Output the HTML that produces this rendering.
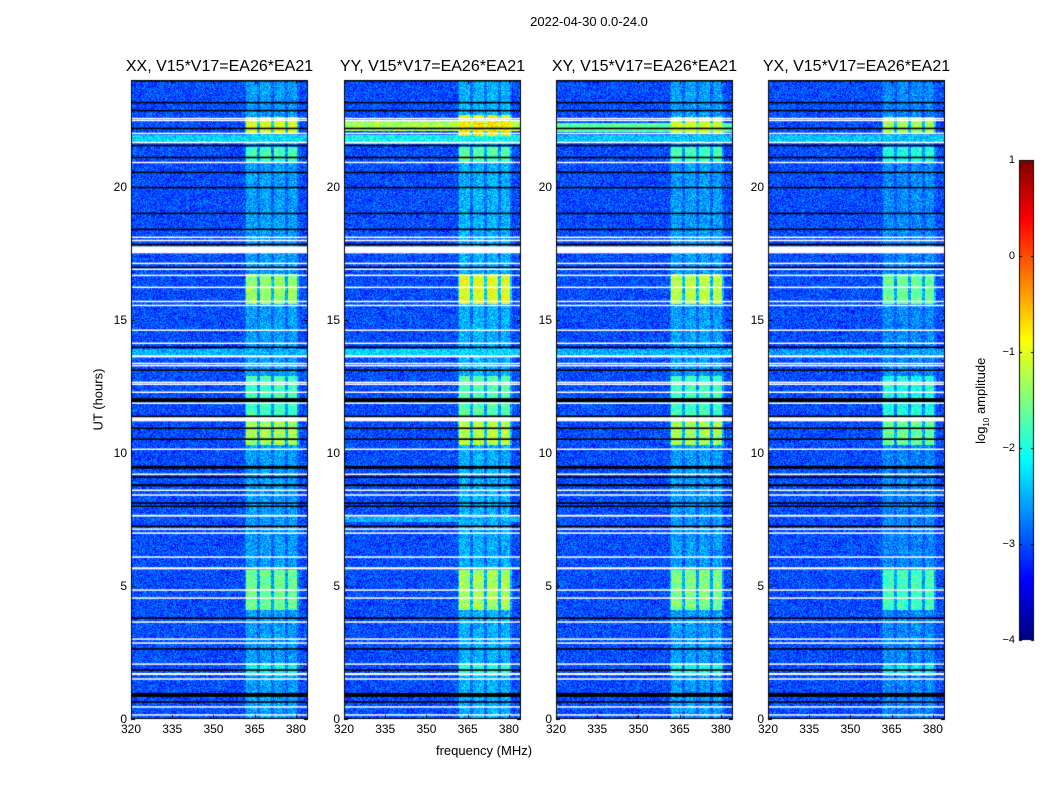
<!DOCTYPE html>
<html><head><meta charset="utf-8">
<style>
body{margin:0;background:#fff;}
#wrap{position:relative;width:1050px;height:800px;font-family:"Liberation Sans",sans-serif;color:#000;overflow:hidden;}
.t{position:absolute;white-space:nowrap;font-family:"Liberation Sans",sans-serif;}
canvas{position:absolute;}
</style></head>
<body>
<div id="wrap">
<div class="t" style="left:489px;top:14px;font-size:13px;width:200px;text-align:center;">2022-04-30 0.0-24.0</div>
<div class="t" style="left:384px;top:743px;font-size:13px;width:200px;text-align:center;">frequency (MHz)</div>
<div class="t" style="left:48px;top:392px;font-size:13px;width:100px;text-align:center;transform:rotate(-90deg);">UT (hours)</div>
<canvas id="cv" width="1050" height="800" style="left:0;top:0;"></canvas>
<div id="labels"></div>
<div class="t" style="left:932px;top:392px;font-size:13px;width:100px;text-align:center;transform:rotate(-90deg);">log<sub style="font-size:8px">10</sub> amplitude</div>
</div>
<script>
const titles=["XX, V15*V17=EA26*EA21","YY, V15*V17=EA26*EA21","XY, V15*V17=EA26*EA21","YX, V15*V17=EA26*EA21"];
const xTicks=[320,335,350,365,380];
const yTicks=[0,5,10,15,20];
const cbTicks=[-4,-3,-2,-1,0,1];
// flagged (white) rows, hours [start,end]
const whiteRows=[[22.53,22.58],[22.46,22.51],[21.97,22.02],[21.63,21.68],[20.88,20.93],[18.07,18.12],[17.95,18.0],[17.49,17.75],[17.09,17.14],[16.87,16.92],[16.64,16.69],[16.19,16.24],[15.66,15.71],[15.51,15.56],[14.58,14.63],[14.09,14.14],[13.58,13.66],[13.34,13.38],[13.26,13.30],[12.62,12.67],[12.55,12.60],[12.25,12.30],[11.84,11.89],[11.18,11.33],[10.11,10.16],[9.17,9.22],[8.57,8.62],[8.39,8.44],[7.60,7.67],[7.11,7.16],[6.96,7.01],[6.06,6.11],[5.62,5.70],[4.82,4.87],[4.52,4.57],[3.62,3.67],[2.98,3.03],[2.83,2.88],[2.04,2.09],[1.65,1.73],[1.48,1.53],[0.43,0.48],[0.13,0.18]];
// zeroed (black) rows
const blackRows=[[23.94,24.0],[23.12,23.18],[22.82,22.88],[22.15,22.21],[21.51,21.57],[21.06,21.12],[20.50,20.56],[19.93,19.99],[18.96,19.02],[18.36,18.42],[17.79,17.85],[16.93,16.99],[13.93,13.99],[13.07,13.13],[11.90,12.05],[11.34,11.40],[10.89,10.95],[10.48,10.54],[9.40,9.51],[9.05,9.11],[8.74,8.82],[8.08,8.14],[7.96,8.02],[7.21,7.27],[3.76,3.82],[2.60,2.66],[1.81,1.87],[0.83,0.98],[0.61,0.67]];
// RFI sub-bands (MHz) [start,end]
const rfiBands=[[362,366],[367,371],[372,376],[377,380.5]];
// RFI time episodes per panel: [start,end,log10 level]
const rfiXX=[[0,24,-2.6],[22.0,22.6,-1.0],[20.9,21.5,-1.8],[15.6,16.7,-1.4],[11.3,12.9,-1.8],[10.3,11.2,-1.3],[4.1,5.6,-1.6],[1.6,2.1,-2.1]];
const rfiYY=[[0,24,-2.5],[21.9,22.7,-0.8],[20.9,21.5,-1.7],[15.6,16.7,-1.0],[11.3,12.9,-1.7],[10.3,11.2,-1.2],[4.1,5.6,-1.3],[1.6,2.1,-1.9]];
const rfiXY=[[0,24,-2.6],[22.0,22.6,-1.1],[20.9,21.5,-1.8],[15.6,16.7,-1.2],[11.3,12.9,-1.8],[10.3,11.2,-1.3],[4.1,5.6,-1.5],[1.6,2.1,-2.0]];
const rfiYX=[[0,24,-2.7],[22.0,22.6,-1.3],[20.9,21.5,-2.0],[15.6,16.7,-1.6],[11.3,12.9,-2.0],[10.3,11.2,-1.6],[4.1,5.6,-1.8],[1.6,2.1,-2.2]];
// broadband episodes per panel [start,end,level]
const broadXX=[[21.65,21.95,-2.3],[13.6,13.9,-2.5]];
const broadYY=[[22.1,22.45,-1.3],[21.6,21.95,-2.1],[13.6,13.9,-2.3],[7.4,7.6,-2.5]];
const broadXY=[[22.05,22.4,-1.7],[21.65,21.95,-2.4],[13.6,13.9,-2.5]];
const broadYX=[[21.65,21.95,-2.4],[13.6,13.9,-2.6]];
const baseLevel=-3.0;

const rfiSets=[rfiXX,rfiYY,rfiXY,rfiYX];
const broadSets=[broadXX,broadYY,broadXY,broadYX];
const lefts=[131,344,556,768], PT=80, PW=177, PH=639, FMIN=320, FMAX=384.4, TMAX=24;
function xs(f){return (f-FMIN)/(FMAX-FMIN)*PW;}
function ys(t){return PH-(t/TMAX)*PH;}
function jet(v){
  const c=x=>Math.max(0,Math.min(1,x));
  return [c(1.5-Math.abs(4*v-3)),c(1.5-Math.abs(4*v-2)),c(1.5-Math.abs(4*v-1))].map(q=>Math.round(q*255));
}
function lv2c(l){return jet((l+4)/5);}
function hash(a,b){let h=(a*374761393+b*668265263)|0;h=(h^(h>>>13))*1274126177|0;return ((h^(h>>>16))>>>0)/4294967296;}
const cv=document.getElementById('cv'),ctx=cv.getContext('2d');
const lab=document.getElementById('labels');
function addText(txt,x,y,size,name,align){
  const d=document.createElement('div');d.className='t';d.textContent=txt;
  d.style.fontSize=size+'px';
  d.style.top=y+'px';
  if(align==='c'){d.style.left=(x-100)+'px';d.style.width='200px';d.style.textAlign='center';}
  else if(align==='r'){d.style.left=(x-60)+'px';d.style.width='60px';d.style.textAlign='right';}
  else d.style.left=x+'px';
  
  
  lab.appendChild(d);
}
for(let p=0;p<4;p++){
  const L=lefts[p];
  const img=ctx.createImageData(PW,PH);
  for(let r=0;r<PH;r++){
    const t=(PH-r-0.5)/PH*TMAX;
    let rfi=-9; for(const e of rfiSets[p]) if(t>=e[0]&&t<e[1]) rfi=Math.max(rfi,e[2]);
    let bb=baseLevel; for(const e of broadSets[p]) if(t>=e[0]&&t<e[1]) bb=Math.max(bb,e[2]);
    for(let c=0;c<PW;c++){
      const f=FMIN+(c+0.5)/PW*(FMAX-FMIN);
      let w=0; for(const b of rfiBands){ if(f>=b[0]&&f<b[1]) w=1; }
      if(!w && f>=361.5 && f<381) w=0.3;
      let lvl=bb; if(w>0) lvl=Math.max(bb, bb+(rfi-bb)*w);
      lvl+= (hash(c+p*300,r)-0.5)*0.8;
      const col=lv2c(lvl); const i=(r*PW+c)*4;
      img.data[i]=col[0];img.data[i+1]=col[1];img.data[i+2]=col[2];img.data[i+3]=255;
    }
  }
  ctx.putImageData(img,L,PT);
  ctx.fillStyle='#000';
  for(const b of blackRows){const y0=ys(b[1]),y1=ys(b[0]);ctx.fillRect(L,PT+y0,PW,Math.max(1.5,y1-y0));}
  ctx.fillStyle='#fff';
  for(const b of whiteRows){const y0=ys(b[1]),y1=ys(b[0]);ctx.fillRect(L,PT+y0,PW,Math.max(1.5,y1-y0));}
  ctx.strokeStyle='#000';ctx.lineWidth=1;ctx.strokeRect(L+0.5,PT+0.5,PW-1,PH-1);
  for(const f of xTicks){const x=Math.round(L+xs(f))+0.5;ctx.beginPath();ctx.moveTo(x,PT+PH);ctx.lineTo(x,PT+PH-4);ctx.moveTo(x,PT);ctx.lineTo(x,PT+4);ctx.stroke();
    addText(String(f),L+xs(f),PT+PH+3,12,'x-tick-label','c');}
  for(const t of yTicks){const y=Math.round(PT+ys(t))+0.5;ctx.beginPath();ctx.moveTo(L,y);ctx.lineTo(L+4,y);ctx.moveTo(L+PW,y);ctx.lineTo(L+PW-4,y);ctx.stroke();
    addText(String(t),L-4,PT+ys(t)-7,12,'y-tick-label','r');}
  addText(titles[p],L+PW/2,58,16,'panel-title','c');
}
const CBX=1019,CBW=15,CBT=160,CBH=480,CMIN=-4,CMAX=1;
for(let r=0;r<CBH;r++){const l=CMAX-(r+0.5)/CBH*(CMAX-CMIN);const c=lv2c(l);ctx.fillStyle=`rgb(${c[0]},${c[1]},${c[2]})`;ctx.fillRect(CBX,CBT+r,CBW,1);}
ctx.strokeStyle='#000';ctx.strokeRect(CBX+0.5,CBT+0.5,CBW-1,CBH-1);
for(const v of cbTicks){const y=Math.round(CBT+(CMAX-v)/(CMAX-CMIN)*CBH)+0.5;ctx.beginPath();ctx.moveTo(CBX,y);ctx.lineTo(CBX+3,y);ctx.moveTo(CBX+CBW,y);ctx.lineTo(CBX+CBW-3,y);ctx.stroke();
  addText(v<0?'\u2212'+(-v):String(v),CBX-4,y-7,11,'colorbar-tick-label','r');}
</script>
</body></html>
